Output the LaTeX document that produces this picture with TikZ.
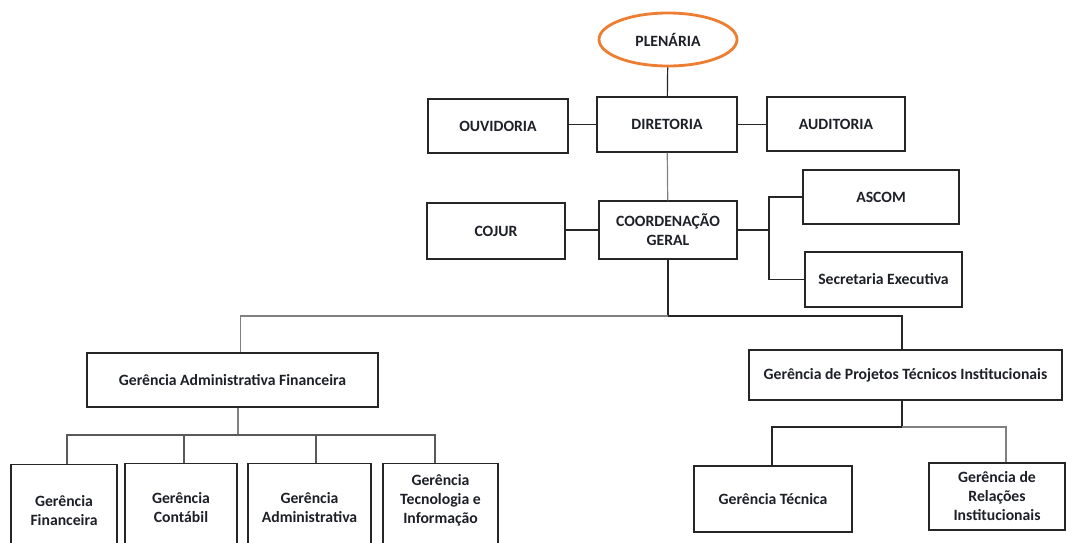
\documentclass[tikz,border=0pt]{standalone}
\usepackage{fontspec}
\setmainfont{Carlito}
\usepackage{tikz}
\usetikzlibrary{
  shapes.geometric,
  chains,
  positioning,
  scopes
}
\definecolor{plenorange}{RGB}{237,125,49}
\definecolor{unittext}{RGB}{30,32,40}

\begin{document}
\begin{tikzpicture}[x=1pt,y=-1pt,
      unit/.style={
         rectangle,
         draw=black!85,
         line width=1.2pt,
         inner sep=2pt,
         align=center,
         text=unittext,
         font=\bfseries\fontsize{15.7}{19}\selectfont
      },
      council/.style={
         ellipse,
         draw=plenorange,
         line width=2.8pt,
         minimum width=138pt,
         minimum height=53pt,
         text=unittext,
         font=\bfseries\fontsize{15.7}{19}\selectfont
      },
      open unit/.style={
         unit,
         anchor=north,
         text depth=80pt,
         inner ysep=#1
      },
      point/.style={coordinate},
      link/.style={draw=black!85,line width=1.2pt},
      faint/.style={draw=black!50,line width=1.2pt},
      hv path/.style={to path={-| (\tikztotarget)}},
      vh path/.style={to path={|- (\tikztotarget)}}
    ]
    \fill[white] (0,0) rectangle (1067,542);
    \useasboundingbox (0,0) rectangle (1067,542);
    \clip (0,0) rectangle (1067,542);

    % upper levels
    \node (plen) [council] at (668,39.5) {PLENÁRIA};
    \node (dir) [unit, minimum width=140pt, minimum height=55pt] at (667,124.5) {DIRETORIA};
    \node (ouv) [unit, minimum width=140pt, minimum height=54pt] at (498,126) {OUVIDORIA};
    \node (aud) [unit, minimum width=138pt, minimum height=54pt] at (836,124) {AUDITORIA};
    \node (coord) [unit, minimum width=138pt, minimum height=58pt] at (668,230) {COORDENAÇÃO\\GERAL};
    \node (cojur) [unit, minimum width=138pt, minimum height=56pt] at (496,231) {COJUR};
    \node (ascom) [unit, minimum width=156pt, minimum height=54pt] at (881,197) {ASCOM};
    \node (secex) [unit, minimum width=157pt, minimum height=55pt] at (883.5,279.5) {Secretaria Executiva};

    % gerencias
    \node (gaf) [unit, minimum width=291pt, minimum height=54pt] at (232.5,380) {Gerência Administrativa Financeira};
    \node (gpti) [unit, minimum width=313pt, minimum height=50pt] at (905.5,375) {Gerência de Projetos Técnicos Institucionais};
    \node (gfin) [open unit=31pt, minimum width=106pt] at (64,464) {Gerência\\Financeira};
    \node (gcont) [open unit=29pt, minimum width=112pt] at (181,463) {Gerência\\Contábil};
    \node (gadm) [open unit=29pt, minimum width=123pt] at (309.5,463) {Gerência\\Administrativa};
    \node (gti) [open unit=11pt, minimum width=115pt] at (440.5,463) {Gerência\\Tecnologia e\\Informação};
    \node (gtec) [unit, minimum width=158pt, minimum height=66pt] at (773,499) {Gerência Técnica};
    \node (gri) [unit, minimum width=136pt, minimum height=67pt] at (997,496.5) {Gerência de\\Relações\\Institucionais};

    % branch points
    \node (asbr) [point] at (769,230) {};
    \node (topbus) [point] at (668,316) {};
    \node (gafbus) [point] at (238,435) {};
    \node (gptibus) [point] at (902,427) {};

    { [start chain]
         \chainin (plen);
         \chainin (dir)    [join=by link];
         \chainin (coord)  [join=by faint];
    }
    \draw[link] (dir.west) -- (dir.west -| ouv.east);
    \draw[link] (dir.east) -- (dir.east -| aud.west);
    \draw[link] (coord.west) -- (coord.west -| cojur.east);
    { [start chain]
         \chainin (coord);
         \chainin (asbr)   [join=by link];
         \chainin (ascom)  [join=by {vh path,link}];
    }
    \draw[link] (asbr) |- (secex.west);

    % lower levels
    \draw[link] (coord.south) -- (topbus);
    \draw[faint] (topbus) -| ([xshift=8pt]gaf.north);
    \draw[link] (topbus) -| ([xshift=-3.5pt]gpti.north);
    \draw[faint] ([xshift=5.5pt]gaf.south) -- (gafbus);
    \draw[link,draw=black!65] (gafbus) -| ([xshift=3pt]gfin.north);
    \draw[link,draw=black!65] (gafbus) -| ([xshift=3pt]gcont.north);
    \draw[link,draw=black!65] (gafbus) -| ([xshift=6.5pt]gadm.north);
    \draw[link,draw=black!65] (gafbus) -| ([xshift=-5.5pt]gti.north);
    \draw[link] ([xshift=-3.5pt]gpti.south) -- (gptibus);
    \draw[link] (gptibus) -| ([xshift=-1pt]gtec.north);
    \draw[faint] (gptibus) -| ([xshift=9pt]gri.north);
\end{tikzpicture}
\end{document}
